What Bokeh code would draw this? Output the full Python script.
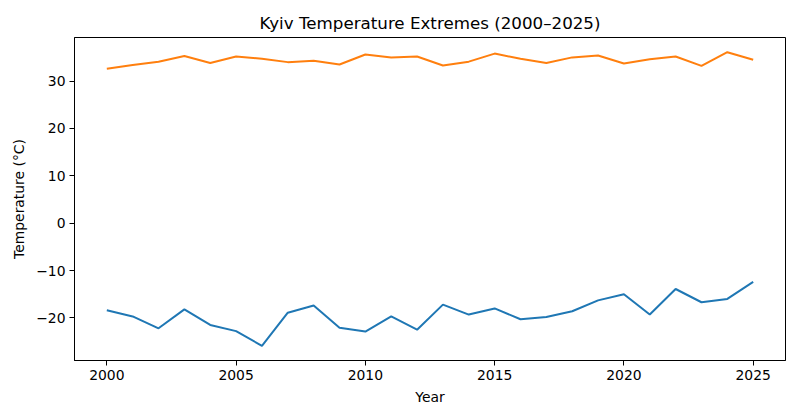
from bokeh.plotting import figure
from bokeh.embed import file_html
from bokeh.resources import INLINE
from bokeh.models import FixedTicker, Range1d

years = list(range(2000, 2026))
t_max = [32.6, 33.4, 34.1, 35.3, 33.8, 35.2, 34.7, 34.0, 34.3, 33.5,
         35.6, 35.0, 35.2, 33.3, 34.1, 35.8, 34.7, 33.8, 35.0, 35.4,
         33.7, 34.6, 35.2, 33.2, 36.1, 34.5]
t_min = [-18.4, -19.7, -22.2, -18.2, -21.5, -22.8, -25.9, -18.9, -17.4, -22.1,
         -22.9, -19.7, -22.5, -17.2, -19.3, -18.0, -20.3, -19.8, -18.6, -16.3,
         -15.0, -19.3, -13.9, -16.7, -16.0, -12.4]
x_ticks = [2000, 2005, 2010, 2015, 2020, 2025]
y_ticks = [-20, -10, 0, 10, 20, 30]
y_tick_labels = ["\u221220", "\u221210", "0", "10", "20", "30"]

FONT = "DejaVu Sans"

p = figure(width=800, height=418, output_backend="svg", toolbar_location=None,
           title="Kyiv Temperature Extremes (2000\u20132025)",
           x_range=Range1d(1998.75, 2026.25), y_range=Range1d(-29.0, 39.2),
           min_border_left=74, min_border_right=15, min_border_top=37, min_border_bottom=58)

p.title.align = "center"
p.title.text_font = FONT
p.title.text_font_size = "16.7px"
p.title.text_font_style = "normal"
p.title.text_color = "black"

p.line(years, t_min, line_color="#1f77b4", line_width=2)
p.line(years, t_max, line_color="#ff7f0e", line_width=2)

p.grid.visible = False
p.outline_line_color = "black"
p.outline_line_width = 1
p.outline_line_alpha = 1
p.background_fill_color = "white"
p.border_fill_color = "white"

p.xaxis.ticker = FixedTicker(ticks=x_ticks)
p.yaxis.ticker = FixedTicker(ticks=y_ticks)
p.yaxis.major_label_overrides = {t: l for t, l in zip(y_ticks, y_tick_labels)}
p.xaxis.axis_label = "Year"
p.yaxis.axis_label = "Temperature (\u00b0C)"

for ax in (p.xaxis, p.yaxis):
    ax.axis_line_color = "black"
    ax.major_tick_line_color = "black"
    ax.minor_tick_line_color = None
    ax.major_tick_in = 0
    ax.major_tick_out = 5
    ax.major_label_text_font = FONT
    ax.major_label_text_font_size = "13.9px"
    ax.major_label_text_color = "black"
    ax.axis_label_text_font = FONT
    ax.axis_label_text_font_size = "13.9px"
    ax.axis_label_text_font_style = "normal"
    ax.axis_label_text_color = "black"
    ax.major_label_standoff = 4
    ax.axis_label_standoff = 6

open("out.html", "w").write(file_html(p, INLINE))
